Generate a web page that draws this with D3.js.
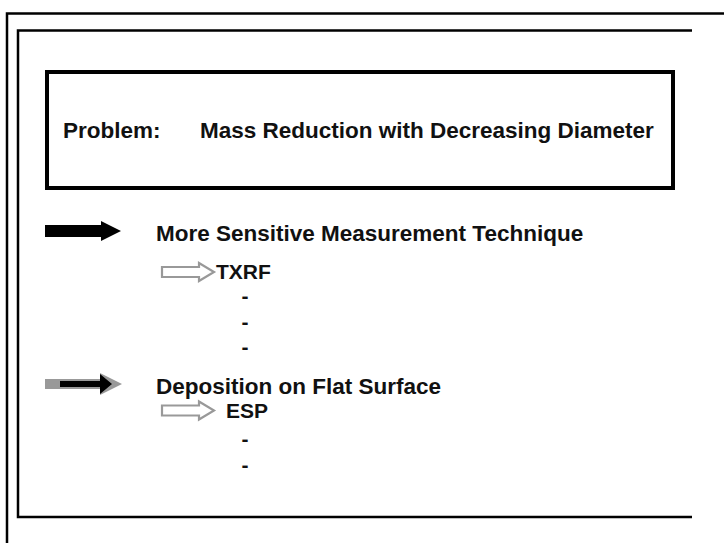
<!DOCTYPE html>
<html>
<head>
<meta charset="utf-8">
<script src="https://cdn.jsdelivr.net/npm/d3@7"></script>
<style>
  html, body { margin: 0; padding: 0; background: #fff; }
  svg { display: block; }
  text { font-family: "Liberation Sans", Arial, sans-serif; font-weight: bold; fill: #111; }
</style>
</head>
<body>
<div id="chart"></div>
<script>
// ---- content ----
const problemLabel = "Problem:";
const problemText = "Mass Reduction with Decreasing Diameter";
const headings = ["More Sensitive Measurement Technique", "Deposition on Flat Surface"];
const methods = ["TXRF", "ESP"];
const dashCounts = [3, 2];
const arrowStyles = ["solid", "shadow"];

// ---- layout ----
const W = 724, H = 543;
const svg = d3.select("#chart").append("svg").attr("width", W).attr("height", H);

// frames
svg.append("path").attr("d", "M7,543 V13.5 H724").attr("fill", "none")
   .attr("stroke", "#000").attr("stroke-width", 2.5);
svg.append("path").attr("d", "M692,30.5 H18 V517 H692").attr("fill", "none")
   .attr("stroke", "#000").attr("stroke-width", 2.5);

// problem box
svg.append("rect").attr("x", 47).attr("y", 72).attr("width", 626).attr("height", 116)
   .attr("fill", "none").attr("stroke", "#000").attr("stroke-width", 4);
svg.append("text").attr("x", 63).attr("y", 138).attr("font-size", 22.5).text(problemLabel);
svg.append("text").attr("x", 200).attr("y", 138).attr("font-size", 22.5).text(problemText);

// row scale for the two sections
const rowY = d3.scalePoint().domain(d3.range(headings.length)).range([231, 384]);
const methodOffset = [41, 26.5];   // arrow centre below heading arrow centre
const dashStart = [25, 29.5];
const dashStep = 25.5;

function arrowPath(x0, x1, headLen, shaftHalf, headHalf, cy) {
  const xb = x1 - headLen;
  return `M${x0},${cy - shaftHalf} H${xb} V${cy - headHalf} L${x1},${cy} L${xb},${cy + headHalf} V${cy + shaftHalf} H${x0} Z`;
}

headings.forEach((h, i) => {
  const cy = rowY(i);
  if (arrowStyles[i] === "solid") {
    svg.append("path").attr("d", arrowPath(45, 121, 20, 6, 10, cy)).attr("fill", "#000");
  } else {
    svg.append("path").attr("d", arrowPath(45, 122, 22, 5, 11, cy)).attr("fill", "#999");
    svg.append("path").attr("d", arrowPath(60, 112, 12, 3, 10, cy)).attr("fill", "#000");
  }
  svg.append("text").attr("x", 156).attr("y", cy + 9.5).attr("font-size", 22.5).text(h);

  const my = cy + methodOffset[i];
  svg.append("path").attr("d", arrowPath(162, 214, 15, 5, 9, my))
     .attr("fill", "#fff").attr("stroke", "#999").attr("stroke-width", 2.2)
     .attr("stroke-linejoin", "miter");
  svg.append("text").attr("x", i === 0 ? 216 : 226).attr("y", my + 7)
     .attr("font-size", 21).text(methods[i]);

  d3.range(dashCounts[i]).forEach(k => {
    svg.append("text").attr("x", 245).attr("y", my + dashStart[i] + k * dashStep + 6)
       .attr("text-anchor", "middle").attr("font-size", 21).text("-");
  });
});
</script>
</body>
</html>
